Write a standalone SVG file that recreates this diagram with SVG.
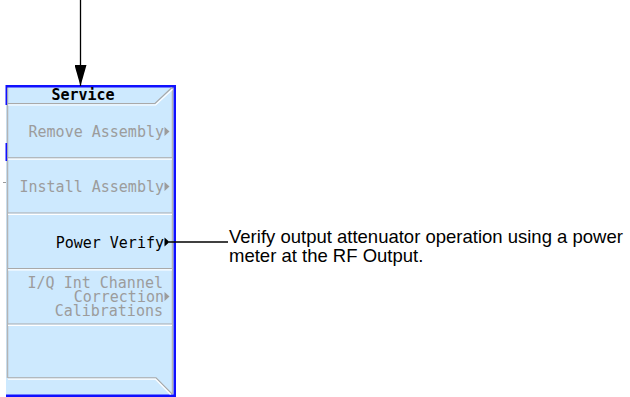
<svg xmlns="http://www.w3.org/2000/svg" width="630" height="397" viewBox="0 0 630 397">
  <style>
    .key { font-family: "DejaVu Sans Mono", "Liberation Mono", monospace; font-size: 15px; text-anchor: end; }
    .off { fill: #9c9c9c; }
    .on { fill: #000000; }
    .title { font-family: "DejaVu Sans Mono", "Liberation Mono", monospace; font-size: 15px; font-weight: bold; text-anchor: middle; fill: #000000; }
    .sep { stroke: #a9a9a9; stroke-width: 1.2; fill: none; }
    .hi { stroke: #ffffff; stroke-width: 1.2; fill: none; }
    .frame { stroke: #1010ff; fill: none; }
    .edge { stroke: #b4b4b4; stroke-width: 1.5; fill: none; }
    .wire { stroke: #000000; stroke-width: 1.3; fill: none; }
    .note { font-family: "Liberation Sans", Arial, sans-serif; font-size: 18.5px; fill: #000000; }
  </style>
  <defs>
    <marker id="head" viewBox="0 0 21 12" refX="21" refY="6" markerWidth="21" markerHeight="12" markerUnits="userSpaceOnUse" orient="auto">
      <path d="M0,0 L21,6 L0,12 Z" fill="#000000"/>
    </marker>
  </defs>

  <rect width="630" height="397" fill="#ffffff"/>

  <!-- softkey menu panel -->
  <g id="service-menu">
    <rect x="6" y="85" width="170" height="312" fill="#cde9fe"/>
    <!-- inner bevel edges -->
    <line class="edge" x1="7.5" y1="87" x2="7.5" y2="378"/>
    <line class="edge" x1="172.5" y1="87" x2="172.5" y2="394"/>
    <!-- blue frame -->
    <line class="frame" stroke-width="2.4" x1="6" y1="86.2" x2="176" y2="86.2"/>
    <line class="frame" stroke-width="2.4" x1="174.8" y1="85" x2="174.8" y2="397"/>
    <line class="frame" stroke-width="2.6" x1="6" y1="395.7" x2="176" y2="395.7"/>
    <line class="frame" stroke-width="1.6" x1="6.3" y1="85" x2="6.3" y2="105"/>
    <line class="frame" stroke-width="1.6" x1="6.3" y1="143" x2="6.3" y2="161"/>
    <line stroke="#9a9a9a" stroke-width="1" x1="3" y1="182.5" x2="6" y2="182.5"/>

    <g id="title">
      <polyline class="sep" points="8,103.5 155,103.5 172,87.5"/>
      <polyline class="hi" points="8,105 155.6,105 172.5,89.2"/>
      <text class="title" x="83" y="99.5">Service</text>
    </g>

    <g id="key-remove-assembly">
      <text class="key off" x="164" y="136.5">Remove Assembly</text>
      <path class="off" d="M164.5,127 L169.5,131.5 L164.5,136 Z"/>
      <line class="sep" x1="8" y1="157.8" x2="172" y2="157.8"/>
      <line class="hi" x1="8" y1="159.1" x2="172" y2="159.1"/>
    </g>

    <g id="key-install-assembly">
      <text class="key off" x="164" y="191.5">Install Assembly</text>
      <path class="off" d="M164.5,182 L169.5,186.5 L164.5,191 Z"/>
      <line class="sep" x1="8" y1="213" x2="172" y2="213"/>
      <line class="hi" x1="8" y1="214.3" x2="172" y2="214.3"/>
    </g>

    <g id="key-power-verify">
      <text class="key on" x="164" y="247.5">Power Verify</text>
      <path class="on" d="M164.5,237.5 L169.5,242 L164.5,246.5 Z"/>
      <line class="sep" x1="8" y1="268.5" x2="172" y2="268.5"/>
      <line class="hi" x1="8" y1="269.8" x2="172" y2="269.8"/>
    </g>

    <g id="key-iq-calibrations">
      <text class="key off" x="163" y="288">I/Q Int Channel</text>
      <text class="key off" x="164" y="302">Correction</text>
      <text class="key off" x="163" y="316">Calibrations</text>
      <path class="off" d="M164.5,292 L169.5,296.5 L164.5,301 Z"/>
      <line class="sep" x1="8" y1="324" x2="172" y2="324"/>
      <line class="hi" x1="8" y1="325.3" x2="172" y2="325.3"/>
    </g>

    <g id="key-blank">
      <polyline class="sep" points="8,377.8 156,377.8 172,394"/>
      <polyline class="hi" points="8,379.2 155.4,379.2 170.6,394.5"/>
    </g>
  </g>

  <!-- description of the Power Verify key -->
  <g id="power-verify-note">
    <text class="note" x="229" y="243">Verify output attenuator operation using a power</text>
    <text class="note" x="229" y="261.5">meter at the RF Output.</text>
  </g>

  <!-- connectors -->
  <g id="connectors">
    <line class="wire" stroke-width="2" x1="80.5" y1="0" x2="80.5" y2="86" marker-end="url(#head)"/>
    <line class="wire" x1="169" y1="242" x2="228" y2="242"/>
  </g>
</svg>
